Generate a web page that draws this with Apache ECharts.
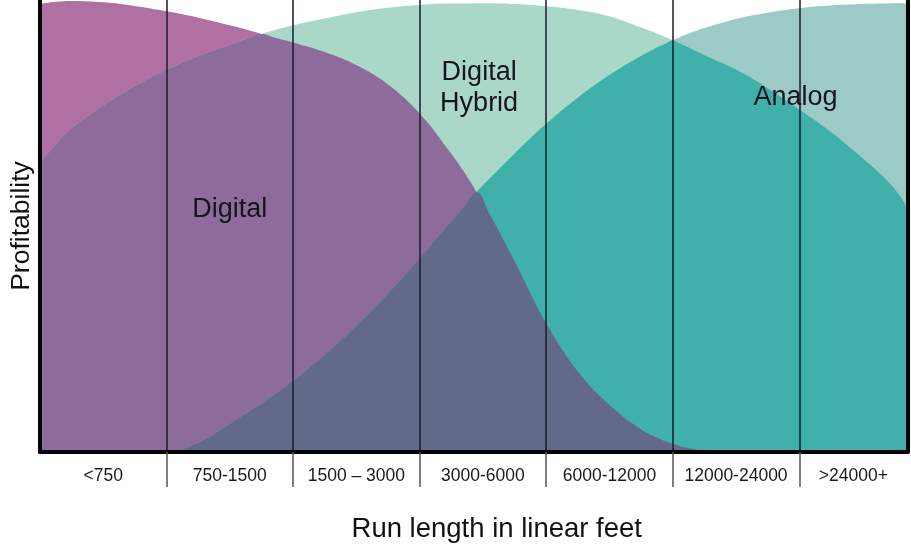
<!DOCTYPE html>
<html>
<head>
<meta charset="utf-8">
<script src="https://cdn.jsdelivr.net/npm/echarts@6/dist/echarts.min.js"></script>
<style>
  html, body { margin: 0; padding: 0; background: #ffffff; }
  #chart { width: 911px; height: 548px; }
</style>
</head>
<body>
<div id="chart"></div>
<script>
// ---- data (x in column units: 0 = left edge of "<750", each column = 1) ----
const categories = ['<750', '750-1500', '1500 \u2013 3000', '3000-6000', '6000-12000', '12000-24000', '>24000+'];
const xPos    = [0, 0.125, 0.25, 0.5, 0.75, 1, 1.25, 1.5, 1.65, 1.75, 1.85, 2, 2.25, 2.5, 2.75, 3, 3.25, 3.35, 3.45, 3.55, 3.75, 4, 4.25, 4.5, 4.75, 4.9, 4.95, 5, 5.05, 5.1, 5.25, 5.5, 5.75, 6, 6.25, 6.5, 6.65, 6.75, 6.82, 6.855];
const digital = [99.1, 99.6, 99.8, 99.5, 98.7, 97.5, 96.1, 94.4, 93.3, 92.5, 91.7, 90.6, 88.5, 85.6, 81.3, 74.9, 66.0, 62.0, 57.5, 52.8, 42.2, 28.5, 17.8, 10.4, 5.0, 2.9, 2.3, 1.8, 1.4, 1.0, 0.3, 0, 0, 0, 0, 0, 0, 0, 0, 0];
const hybrid  = [64.1, 68.1, 71.6, 76.7, 81.0, 84.6, 87.6, 90.1, 91.6, 92.5, 93.3, 94.4, 95.9, 97.3, 98.3, 98.9, 99.2, 99.2, 99.3, 99.3, 99.1, 98.6, 97.8, 96.4, 93.9, 92.3, 91.7, 91.1, 90.45, 89.8, 87.8, 84.6, 80.5, 75.8, 70.8, 65.0, 61.3, 58.3, 55.6, 53.8];
const analog  = [0, 0, 0, 0, 0, 0, 2.0, 6.2, 8.9, 10.7, 12.6, 15.7, 21.5, 27.9, 35.0, 42.8, 51.0, 54.2, 57.5, 60.4, 66.0, 72.6, 78.4, 83.4, 87.6, 89.8, 90.45, 91.1, 91.7, 92.3, 93.8, 95.8, 97.2, 98.2, 98.8, 99.1, 99.2, 99.3, 99.3, 99.3];
const xMax = 6.855;
const boundaries = [1, 2, 3, 4, 5, 6];

// derived overlap layers
const dh  = digital.map((d, i) => Math.min(d, hybrid[i]));
const ah  = analog.map((a, i) => Math.min(a, hybrid[i]));
const dha = digital.map((d, i) => Math.min(d, hybrid[i], analog[i]));
const pts = arr => arr.map((v, i) => [xPos[i], v]);

const colStarts = [0].concat(boundaries);
const colEnds = boundaries.concat([xMax]);
const labelCenters = colStarts.map((s, i) => (s + colEnds[i]) / 2);

const FONT = '"Liberation Sans", Arial, Helvetica, sans-serif';

function area(name, data, color, z, extra) {
  return Object.assign({
    name: name, type: 'line', data: pts(data), smooth: 0.4,
    showSymbol: false, symbol: 'none', z: z,
    lineStyle: { width: 0 },
    areaStyle: { color: color, opacity: 1 },
    silent: true
  }, extra || {});
}
function note(text, coord) {
  return {
    symbol: 'circle', symbolSize: 1, silent: true,
    itemStyle: { color: 'rgba(0,0,0,0)' },
    label: { show: true, position: 'inside', formatter: text, color: '#16141c',
             fontFamily: FONT, fontSize: 27, lineHeight: 31 },
    data: [{ coord: coord }]
  };
}

const chart = echarts.init(document.getElementById('chart'), null, { renderer: 'canvas' });
chart.setOption({
  animation: false,
  backgroundColor: '#ffffff',
  grid: { left: 37.4, right: 3.5, top: 0, bottom: 94 },
  xAxis: {
    type: 'value', min: 0, max: xMax, interval: 1, z: 10,
    name: 'Run length in linear feet', nameLocation: 'middle', nameGap: 63,
    nameTextStyle: { fontFamily: FONT, fontSize: 27.5, color: '#111', padding: [0, 0, 0, 46] },
    axisLine: { show: true, onZero: false, lineStyle: { color: '#000', width: 4 } },
    axisTick: { show: true, customValues: boundaries, length: 35, lineStyle: { color: '#555', width: 1.5 } },
    axisLabel: {
      customValues: labelCenters, margin: 15, fontFamily: FONT, fontSize: 17.5, color: '#1a1a1a',
      formatter: v => categories[Math.min(categories.length - 1, Math.floor(v))]
    },
    splitLine: { show: true, lineStyle: { color: '#1b1a2a', width: 1.5 } }
  },
  yAxis: [{
    type: 'value', min: 0, max: 100, z: 10,
    name: 'Profitability', nameLocation: 'middle', nameGap: 5,
    nameTextStyle: { fontFamily: FONT, fontSize: 26.5, color: '#111' },
    axisLine: { show: true, lineStyle: { color: '#000', width: 4 } },
    axisTick: { show: false }, axisLabel: { show: false }, splitLine: { show: false }
  }, {
    type: 'value', min: 0, max: 100, position: 'right', z: 10,
    axisLine: { show: true, lineStyle: { color: '#000', width: 4 } },
    axisTick: { show: false }, axisLabel: { show: false }, splitLine: { show: false }
  }],
  series: [
    area('Digital', digital, '#b070a2', 2, { markPoint: note('Digital', [1.5, 53.7]) }),
    area('Digital Hybrid', hybrid, '#a9d7c8', 2.1, { markPoint: note('Digital\nHybrid', [3.47, 80.6]) }),
    area('Analog', analog, '#9ccac6', 2.2, { markPoint: note('Analog', [5.97, 78.4]) }),
    area('Digital + Hybrid', dh, '#8d6c9c', 2.3),
    area('Analog + Hybrid', ah, '#40b0aa', 2.4),
    area('All three', dha, '#636a87', 2.5)
  ]
});
</script>
</body>
</html>
